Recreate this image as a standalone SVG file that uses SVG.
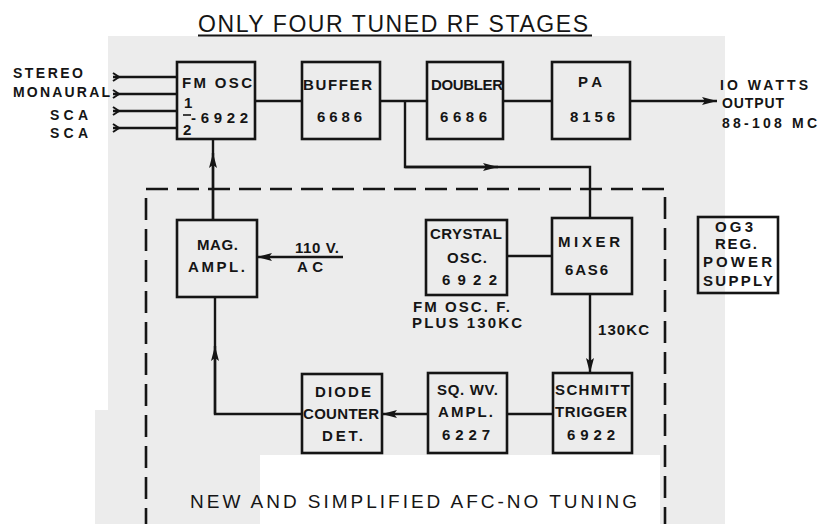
<svg xmlns="http://www.w3.org/2000/svg" width="827" height="524" viewBox="0 0 827 524">
<defs>
<style>
.box{fill:none;stroke:#151515;stroke-width:2.6}
.ln{fill:none;stroke:#151515;stroke-width:2.4}
.dash{fill:none;stroke:#151515;stroke-width:2.6;stroke-dasharray:22 9}
.t{font-family:"Liberation Sans",Arial,sans-serif;font-weight:bold;font-size:15px;fill:#151515}
.s{font-family:"Liberation Sans",Arial,sans-serif;font-weight:bold;font-size:14px;fill:#151515}
.big{font-family:"Liberation Sans",Arial,sans-serif;font-weight:normal;fill:#151515}
</style>
<marker id="ah" markerUnits="userSpaceOnUse" markerWidth="16" markerHeight="9" refX="15" refY="4.5" orient="auto">
<path d="M0,0.5 L15,4.5 L0,8.5 L3,4.5 z" fill="#151515"/>
</marker>
<marker id="chev" markerUnits="userSpaceOnUse" markerWidth="9" markerHeight="11" refX="1" refY="5.5" orient="auto">
<path d="M1,1.5 L7,5.5 L1,9.5" fill="none" stroke="#151515" stroke-width="2"/>
</marker>
</defs>
<rect width="827" height="524" fill="#ffffff"/>
<g id="background">
<rect x="108" y="36" width="617" height="419" fill="#ececec"/>
<rect x="95" y="410" width="165" height="114" fill="#ececec"/>
<rect x="660" y="455" width="65" height="69" fill="#ececec"/>
</g>
<g id="title">
<text class="big" x="198" y="32" font-size="23" textLength="390" lengthAdjust="spacing">ONLY FOUR TUNED RF STAGES</text>
<line x1="198" y1="35.5" x2="592" y2="35.5" stroke="#151515" stroke-width="2"/>
</g>
<g id="inputs">
<text class="s" x="13" y="78" textLength="70">STEREO</text>
<text class="s" x="13" y="97" textLength="97">MONAURAL</text>
<text class="s" x="50" y="120" textLength="38">SCA</text>
<text class="s" x="50" y="138" textLength="38">SCA</text>
</g>
<g id="connectors">
<line class="ln" x1="113" y1="77" x2="177" y2="77" marker-start="url(#chev)"/>
<line class="ln" x1="113" y1="94" x2="177" y2="94" marker-start="url(#chev)"/>
<line class="ln" x1="113" y1="111" x2="177" y2="111" marker-start="url(#chev)"/>
<line class="ln" x1="113" y1="128" x2="177" y2="128" marker-start="url(#chev)"/>
<line class="ln" x1="255" y1="101" x2="302" y2="101"/>
<line class="ln" x1="380" y1="101" x2="427" y2="101"/>
<line class="ln" x1="503" y1="101" x2="552" y2="101"/>
<line class="ln" x1="630" y1="101" x2="717" y2="101" marker-end="url(#ah)"/>
<path class="ln" d="M405,101 V167 H590 V218"/>
<line class="ln" x1="405" y1="167" x2="498" y2="167" marker-end="url(#ah)"/>
<line class="ln" x1="507" y1="256" x2="552" y2="256"/>
<line class="ln" x1="590" y1="294" x2="590" y2="373" marker-end="url(#ah)"/>
<line class="ln" x1="553" y1="414" x2="507" y2="414"/>
<line class="ln" x1="428" y1="414" x2="382" y2="414" marker-end="url(#ah)"/>
<path class="ln" d="M302,414 H215 V297"/>
<line class="ln" x1="215" y1="414" x2="215" y2="346" marker-end="url(#ah)"/>
<line class="ln" x1="213" y1="220" x2="213" y2="139"/>
<line class="ln" x1="213" y1="220" x2="213" y2="153" marker-end="url(#ah)"/>
<line class="ln" x1="343" y1="257" x2="257" y2="257" marker-end="url(#ah)"/>
<path class="dash" d="M146,530 V189 H665 V530"/>
</g>
<g id="fm-osc">
<rect class="box" x="177" y="62" width="78" height="77"/>
<text class="t" x="182" y="88" textLength="70">FM OSC</text>
<text class="t" x="184" y="108" font-size="11">1</text>
<line x1="183" y1="115" x2="191" y2="115" stroke="#151515" stroke-width="1.6"/>
<text class="t" x="183" y="135" font-size="12" fill="#555">2</text>
<text class="t" x="191" y="123" textLength="57">-6922</text>
</g>
<g id="buffer">
<rect class="box" x="302" y="62" width="78" height="77"/>
<text class="t" x="303" y="90" textLength="69">BUFFER</text>
<text class="t" x="317" y="122" textLength="45">6686</text>
</g>
<g id="doubler">
<rect class="box" x="427" y="62" width="76" height="77"/>
<text class="t" x="431" y="90" textLength="72">DOUBLER</text>
<text class="t" x="440" y="122" textLength="47">6686</text>
</g>
<g id="pa">
<rect class="box" x="552" y="62" width="78" height="77"/>
<text class="t" x="578" y="87" textLength="24">PA</text>
<text class="t" x="570" y="122" textLength="45">8156</text>
</g>
<g id="output">
<text class="s" x="720" y="90" textLength="88">IO WATTS</text>
<text class="s" x="722" y="108" textLength="62">OUTPUT</text>
<text class="s" x="722" y="128" textLength="95">88-108 MC</text>
</g>
<g id="mag-ampl">
<rect class="box" x="177" y="220" width="80" height="77"/>
<text class="t" x="197" y="250" textLength="41">MAG.</text>
<text class="t" x="188" y="272" textLength="57">AMPL.</text>
</g>
<g id="ac-input">
<text class="t" x="295" y="253" textLength="44">110 V.</text>
<text class="t" x="297" y="272" textLength="26">AC</text>
</g>
<g id="crystal-osc">
<rect class="box" x="426" y="220" width="81" height="75"/>
<text class="t" x="430" y="239" textLength="72">CRYSTAL</text>
<text class="t" x="447" y="263" textLength="40">OSC.</text>
<text class="t" x="442" y="285" textLength="55">6922</text>
<text class="t" x="413" y="312" textLength="97">FM OSC. F.</text>
<text class="t" x="412" y="328" textLength="110">PLUS 130KC</text>
</g>
<g id="mixer">
<rect class="box" x="552" y="218" width="80" height="76"/>
<text class="t" x="558" y="247" textLength="62">MIXER</text>
<text class="t" x="565" y="275" textLength="43">6AS6</text>
<text class="t" x="598" y="335" textLength="51">130KC</text>
</g>
<g id="power-supply">
<rect class="box" x="698" y="217" width="80" height="76"/>
<text class="t" x="715" y="232" textLength="38">OG3</text>
<text class="t" x="715" y="249" textLength="42">REG.</text>
<text class="t" x="703" y="267" textLength="69">POWER</text>
<text class="t" x="703" y="286" textLength="70">SUPPLY</text>
</g>
<g id="diode-counter">
<rect class="box" x="302" y="374" width="80" height="79"/>
<text class="t" x="315" y="397" textLength="56">DIODE</text>
<text class="t" x="303" y="419" textLength="76">COUNTER</text>
<text class="t" x="322" y="441" textLength="41">DET.</text>
</g>
<g id="sq-wv-ampl">
<rect class="box" x="428" y="373" width="79" height="80"/>
<text class="t" x="437" y="395" textLength="61">SQ. WV.</text>
<text class="t" x="438" y="417" textLength="55">AMPL.</text>
<text class="t" x="442" y="440" textLength="48">6227</text>
</g>
<g id="schmitt">
<rect class="box" x="553" y="373" width="79" height="80"/>
<text class="t" x="555" y="395" textLength="75">SCHMITT</text>
<text class="t" x="555" y="417" textLength="72">TRIGGER</text>
<text class="t" x="567" y="440" textLength="48">6922</text>
</g>
<g id="caption">
<rect x="260" y="455" width="400" height="69" fill="#ffffff"/>
<text class="big" x="190" y="508" font-size="19" textLength="447" lengthAdjust="spacing">NEW AND SIMPLIFIED AFC-NO TUNING</text>
</g>
</svg>
